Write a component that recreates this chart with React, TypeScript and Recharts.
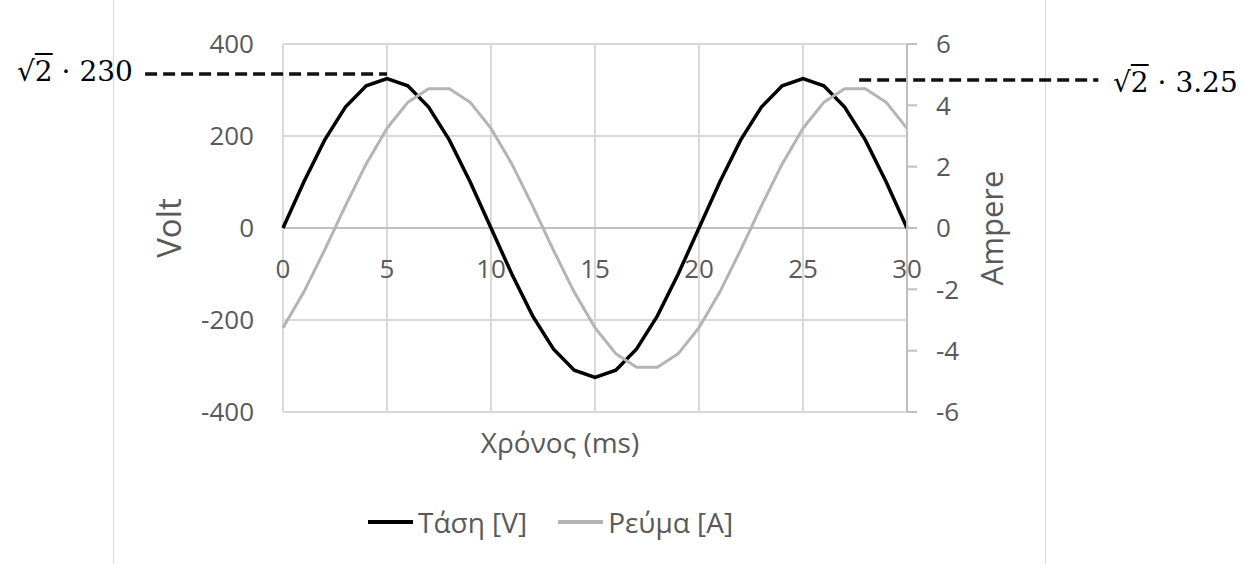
import {
  CartesianGrid,
  Legend,
  Line,
  LineChart,
  ReferenceLine,
  XAxis,
  YAxis,
} from 'recharts';

const TIME = [
  0, 1, 2, 3, 4, 5, 6, 7, 8, 9, 10, 11, 12, 13, 14, 15, 16, 17, 18, 19, 20, 21, 22, 23, 24, 25,
  26, 27, 28, 29, 30,
];
const VOLTAGE = [
  0, 100, 191, 263, 309, 325, 309, 263, 191, 100, 0, -100, -191, -263, -309, -325, -309, -263,
  -191, -100, 0, 100, 191, 263, 309, 325, 309, 263, 191, 100, 0,
];
const CURRENT = [
  -3.25, -2.09, -0.72, 0.72, 2.09, 3.25, 4.1, 4.54, 4.54, 4.1, 3.25, 2.09, 0.72, -0.72, -2.09,
  -3.25, -4.1, -4.54, -4.54, -4.1, -3.25, -2.09, -0.72, 0.72, 2.09, 3.25, 4.1, 4.54, 4.54, 4.1,
  3.25,
];
const X_TICKS = [0, 5, 10, 15, 20, 25, 30];
const VOLT_TICKS = [-400, -200, 0, 200, 400];
const AMP_TICKS = [-6, -4, -2, 0, 2, 4, 6];

const data = TIME.map((t, i) => ({ t, voltage: VOLTAGE[i], current: CURRENT[i] }));

const W = 1241;
const H = 564;
const MARGIN = { top: 44, right: 274, bottom: 122, left: 223 };
const PLOT_H = H - MARGIN.top - MARGIN.bottom - 30;
const ZERO_Y = MARGIN.top + PLOT_H / 2;

const FONT = '"Open Sans", sans-serif';
const TEXT = '#595959';
const GRID = '#d9d9d9';
const AXIS = '#bfbfbf';
const CURRENT_COLOR = '#b4b4b4';

// x labels sit next to the zero line, like Excel's axis crossing at 0
function TimeTick({ x, payload }: { x: number; payload: { value: number } }) {
  return (
    <text
      x={x}
      y={ZERO_Y + 40}
      textAnchor="middle"
      dominantBaseline="central"
      fill={TEXT}
      fontSize={26}
      fontFamily={FONT}
    >
      {payload.value}
    </text>
  );
}

function LegendContent() {
  const item = (color: string, label: string) => (
    <div style={{ display: 'flex', alignItems: 'center' }}>
      <div style={{ width: 45, height: 3.5, background: color, marginRight: 5 }} />
      <span>{label}</span>
    </div>
  );
  return (
    <div
      style={{
        display: 'flex',
        gap: 31,
        fontFamily: FONT,
        fontSize: 28,
        color: TEXT,
        lineHeight: '38px',
      }}
    >
      {item('#000000', 'Τάση [V]')}
      {item(CURRENT_COLOR, 'Ρεύμα [A]')}
    </div>
  );
}

function Root2({ value }: { value: string }) {
  return (
    <span>
      √<span style={{ textDecoration: 'overline' }}>2</span> · {value}
    </span>
  );
}

export default function App() {
  return (
    <div style={{ position: 'absolute', left: 0, top: 0, width: W, height: H, background: '#fff' }}>
      <div
        style={{
          position: 'absolute',
          left: 113,
          top: 0,
          width: 931,
          height: H,
          borderLeft: `1px solid ${GRID}`,
          borderRight: `1px solid ${GRID}`,
        }}
      />
      <LineChart width={W} height={H} data={data} margin={MARGIN}>
        <CartesianGrid yAxisId="volt" stroke={GRID} strokeWidth={2} />
        <XAxis
          dataKey="t"
          type="number"
          domain={[0, 30]}
          ticks={X_TICKS}
          axisLine={false}
          tickLine={false}
          tick={TimeTick}
          height={30}
          label={{
            value: 'Χρόνος (ms)',
            position: 'center',
            dx: -35,
            dy: 16,
            fill: TEXT,
            fontSize: 28,
            fontFamily: FONT,
          }}
        />
        <YAxis
          yAxisId="volt"
          domain={[-400, 400]}
          ticks={VOLT_TICKS}
          axisLine={false}
          tickLine={false}
          tickSize={0}
          tickMargin={29}
          width={60}
          tick={{ fill: TEXT, fontSize: 26, fontFamily: FONT }}
          label={{
            value: 'Volt',
            angle: -90,
            position: 'center',
            dx: -84,
            fill: TEXT,
            fontSize: 33,
            fontFamily: FONT,
          }}
        />
        <YAxis
          yAxisId="amp"
          orientation="right"
          domain={[-6, 6]}
          ticks={AMP_TICKS}
          axisLine={{ stroke: AXIS, strokeWidth: 2 }}
          tickLine={{ stroke: AXIS, strokeWidth: 2 }}
          tickSize={10}
          tickMargin={19}
          width={60}
          tick={{ fill: TEXT, fontSize: 26, fontFamily: FONT }}
          label={{
            value: 'Ampere',
            angle: -90,
            position: 'center',
            dx: 55,
            fill: TEXT,
            fontSize: 31,
            fontFamily: FONT,
          }}
        />
        <ReferenceLine yAxisId="volt" y={0} stroke={AXIS} strokeWidth={2} />
        <Line
          yAxisId="volt"
          type="linear"
          dataKey="voltage"
          name="Τάση [V]"
          stroke="#000000"
          strokeWidth={3.5}
          dot={false}
          isAnimationActive={false}
        />
        <Line
          yAxisId="amp"
          type="linear"
          dataKey="current"
          name="Ρεύμα [A]"
          stroke={CURRENT_COLOR}
          strokeWidth={3}
          dot={false}
          isAnimationActive={false}
        />
        <ReferenceLine
          yAxisId="volt"
          segment={[
            { x: -6.63, y: 335 },
            { x: 5, y: 335 },
          ]}
          ifOverflow="visible"
          stroke="#111111"
          strokeWidth={3.5}
          strokeDasharray="12 6"
        />
        <ReferenceLine
          yAxisId="amp"
          segment={[
            { x: 27.7, y: 4.83 },
            { x: 39.2, y: 4.83 },
          ]}
          ifOverflow="visible"
          stroke="#111111"
          strokeWidth={3.5}
          strokeDasharray="12 6"
        />
        <Legend
          layout="horizontal"
          verticalAlign="middle"
          align="center"
          content={LegendContent}
          wrapperStyle={{ left: 368, top: 503, width: 420, height: 38 }}
        />
      </LineChart>
      <div
        style={{
          position: 'absolute',
          left: 17,
          top: 55,
          fontFamily: '"DejaVu Serif", serif',
          fontSize: 28,
          lineHeight: '34px',
          color: '#000',
          whiteSpace: 'nowrap',
        }}
      >
        <Root2 value="230" />
      </div>
      <div
        style={{
          position: 'absolute',
          left: 1113,
          top: 66,
          fontFamily: '"DejaVu Serif", serif',
          fontSize: 28,
          lineHeight: '34px',
          color: '#000',
          whiteSpace: 'nowrap',
        }}
      >
        <Root2 value="3.25" />
      </div>
    </div>
  );
}
